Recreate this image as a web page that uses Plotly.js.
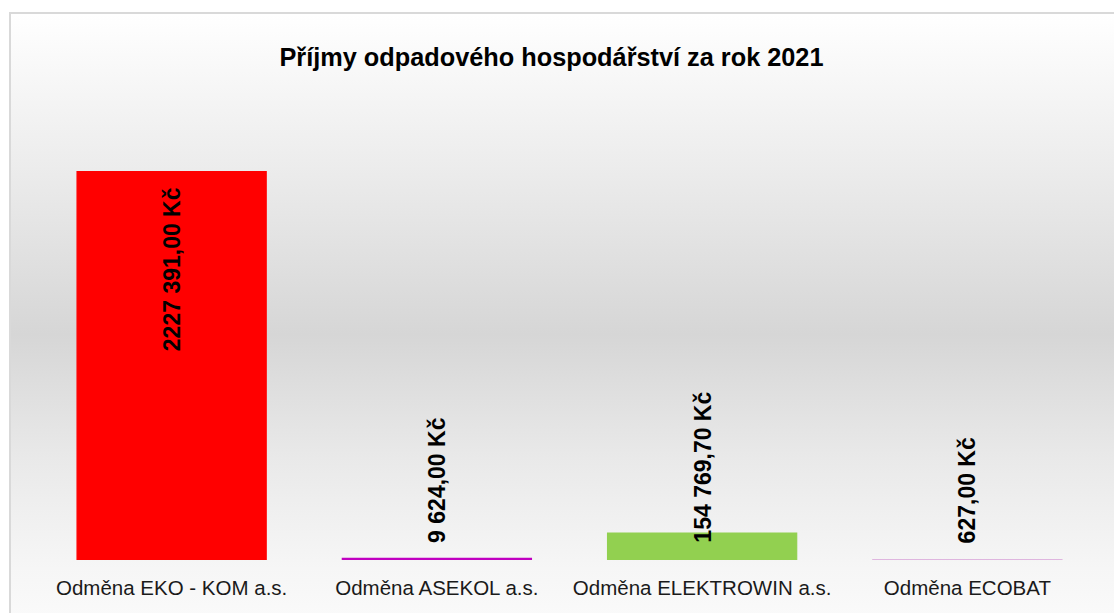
<!DOCTYPE html>
<html>
<head>
<meta charset="utf-8">
<script src="https://cdn.plot.ly/plotly-3.0.1.min.js"></script>
<style>
  html, body { margin: 0; padding: 0; background: #ffffff; overflow: hidden; }
  #wrap { position: relative; width: 1114px; height: 613px; }
  #bg { position: absolute; left: 9px; top: 12px; width: 1120px; height: 620px;
        border: 2px solid #d9d9d9; box-sizing: border-box;
        background: linear-gradient(to bottom, #ffffff 0%, #ececec 25%, #d6d6d6 52%, #e9e9e9 72%, #f6f6f6 90%, #fbfbfb 100%); }
  #chart { position: absolute; left: 0; top: 0; width: 1114px; height: 613px; }
</style>
</head>
<body>
<div id="wrap">
  <div id="bg"></div>
  <div id="chart"></div>
</div>
<script>
const categories = ["Odměna EKO - KOM a.s.", "Odměna ASEKOL a.s.", "Odměna ELEKTROWIN a.s.", "Odměna ECOBAT"];
const values = [2227391.00, 9624.00, 154769.70, 627.00];
const valueLabels = ["2227 391,00 Kč", "9 624,00 Kč", "154 769,70 Kč", "627,00 Kč"];
const barColors = ["#ff0000", "#c000c0", "#92d050", "#d7a0d7"];
const titleText = "Příjmy odpadového hospodářství za rok 2021";
const yMax = 2500000;

const trace = {
  type: "bar",
  x: categories,
  y: values,
  marker: { color: barColors, line: { color: barColors, width: 1.2 } },
  hoverinfo: "none"
};

const annotations = categories.map((c, i) => {
  const inside = values[i] > 0.3 * yMax;
  return {
    x: c, y: inside ? values[i] : 0, xref: "x", yref: "y",
    text: valueLabels[i], showarrow: false, textangle: -90,
    xanchor: "center", yanchor: inside ? "top" : "bottom",
    yshift: inside ? -14 : 15,
    font: { family: "Liberation Sans, Arial, sans-serif", size: 23, color: "#000000", weight: "bold" }
  };
});

const layout = {
  width: 1114, height: 613,
  paper_bgcolor: "rgba(0,0,0,0)",
  plot_bgcolor: "rgba(0,0,0,0)",
  margin: { l: 39, r: 14, t: 124, b: 53 },
  bargap: 0.287,
  showlegend: false,
  title: {
    text: "<b>" + titleText + "</b>",
    xref: "container", yref: "container",
    x: 551.5 / 1114, y: 1 - 57 / 613, xanchor: "center", yanchor: "middle",
    font: { family: "Liberation Sans, Arial, sans-serif", size: 25.3, color: "#000000" }
  },
  xaxis: {
    type: "category",
    showgrid: false, zeroline: false, showline: false, ticks: "",
    ticklabelstandoff: 13,
    tickfont: { family: "Liberation Sans, Arial, sans-serif", size: 20.5, color: "#1a1a1a" }
  },
  yaxis: {
    range: [0, yMax], visible: false, showgrid: false, zeroline: false
  },
  annotations: annotations
};

Plotly.newPlot("chart", [trace], layout, { staticPlot: true, displayModeBar: false });
</script>
</body>
</html>
